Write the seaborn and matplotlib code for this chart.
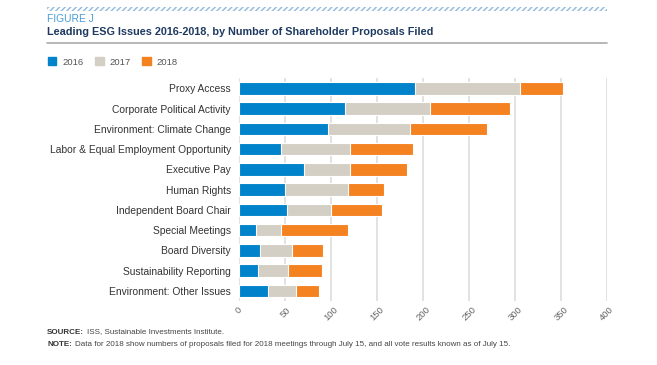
import seaborn as sns
import matplotlib.pyplot as plt
import matplotlib.patches as mpatches
from matplotlib.transforms import offset_copy
import pandas as pd

issues = ["Proxy Access", "Corporate Political Activity", "Environment: Climate Change",
          "Labor & Equal Employment Opportunity", "Executive Pay", "Human Rights",
          "Independent Board Chair", "Special Meetings", "Board Diversity",
          "Sustainability Reporting", "Environment: Other Issues"]
y2016 = [191, 115, 97, 46, 70, 50, 52, 18, 23, 20, 31]
y2017 = [114, 93, 89, 75, 51, 68, 48, 27, 34, 33, 31]
y2018 = [47, 86, 84, 68, 61, 40, 55, 73, 34, 37, 25]
years = ["2016", "2017", "2018"]
colors = ["#0083CA", "#D3CFC4", "#F58220"]
x_ticks = [0, 50, 100, 150, 200, 250, 300, 350, 400]

df = pd.DataFrame({"issue": issues, "2016": y2016, "2017": y2017, "2018": y2018})
df["c2017"] = df["2016"] + df["2017"]
df["c2018"] = df["c2017"] + df["2018"]

sns.set_style("white")
plt.rcParams["font.family"] = ["Liberation Sans", "DejaVu Sans"]

W, H = 657, 365
fig = plt.figure(figsize=(W / 100, H / 100), dpi=100)
ax = fig.add_axes([0.364, 0.175, 0.560, 0.611])

# stacked bars: draw cumulative totals back to front
for col, c in zip(["c2018", "c2017", "2016"], colors[::-1]):
    sns.barplot(data=df, x=col, y="issue", color=c, saturation=1, width=0.62,
                edgecolor="white", linewidth=0.8, ax=ax, zorder=3)

ax.set_xlim(0, 400)
ax.set_xticks(x_ticks)
ax.set_xticklabels([str(t) for t in x_ticks], rotation=45, ha="center",
                   fontsize=6.8, color="#666666")
ax.tick_params(axis="y", labelsize=7.4, colors="#333333", length=0, pad=6)
ax.tick_params(axis="x", length=0, pad=3)
ax.set_xlabel("")
ax.set_ylabel("")
ax.grid(axis="x", color="#dddddd", linewidth=1.2, zorder=0)
sns.despine(ax=ax, left=True, bottom=True)

# header
stripe = mpatches.Rectangle((47 / W, 1 - 11 / H), 560 / W, 4 / H,
                            transform=fig.transFigure, facecolor="white",
                            edgecolor="#8FB8DE", hatch="//////", linewidth=0)
fig.patches.append(stripe)
fig.text(47 / W, 1 - 19 / H, "FIGURE J", fontsize=7.4, color="#4A9BD6",
         va="center")
fig.text(47 / W, 1 - 32 / H,
         "Leading ESG Issues 2016-2018, by Number of Shareholder Proposals Filed",
         fontsize=7.8, fontweight="bold", color="#1F3A60", va="center")
fig.add_artist(plt.Line2D([47 / W, 607 / W], [1 - 43 / H, 1 - 43 / H],
                          transform=fig.transFigure, color="#aaaaaa", linewidth=1.2))

handles = [mpatches.Patch(color=c, label=y) for c, y in zip(colors, years)]
fig.legend(handles=handles, loc="center left", bbox_to_anchor=(39 / W, 1 - 62 / H),
           ncol=3, frameon=False, fontsize=6.8, handlelength=0.95, handleheight=0.95,
           columnspacing=1.15, handletextpad=0.65, labelcolor="#555555")

# footnotes: bold lead-in, then regular text right after it
notes = [("SOURCE:", "ISS, Sustainable Investments Institute.", 332),
         ("NOTE:", "Data for 2018 show numbers of proposals filed for 2018 meetings "
                   "through July 15, and all vote results known as of July 15.", 344)]
renderer = fig.canvas.get_renderer()
for head, body, ypx in notes:
    t = fig.text(47 / W, 1 - ypx / H, head, fontsize=5.8, fontweight="bold",
                 color="#333333", va="center")
    wpx = t.get_window_extent(renderer).width
    fig.text(47 / W, 1 - ypx / H, body, fontsize=5.8, color="#444444", va="center",
             transform=offset_copy(fig.transFigure, fig=fig, x=(wpx + 3) * 72 / 100,
                                   units="points"))

fig.savefig("out.png", dpi=100)
